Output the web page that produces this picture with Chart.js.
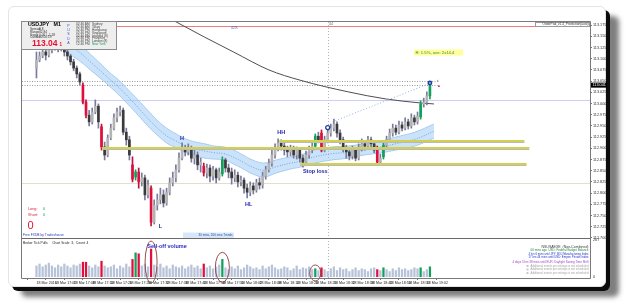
<!DOCTYPE html>
<html>
<head>
<meta charset="utf-8">
<script src="https://cdn.jsdelivr.net/npm/chart.js@4.4.0/dist/chart.umd.min.js"></script>
<style>
  html, body { margin: 0; padding: 0; background: #fff; }
  body { width: 625px; height: 306px; position: relative; overflow: hidden; }
  #card {
    position: absolute; left: 8px; top: 6px; width: 596px; height: 279px;
    border: 1px solid #e4e4e4; border-radius: 6px; background: #fff;
    box-shadow: 4px 4px 0 #0c0c0c, 13px 10px 5px rgba(0,0,0,0.5);
  }
  #chart { position: absolute; left: 0; top: 0; }
</style>
</head>
<body>
<div id="card"></div>
<canvas id="chart" width="625" height="306"></canvas>
<script>
// USDJPY M1 candles, one per minute
const timeLabels = ['18 Mar 2016', '18 Mar 17:02', '18 Mar 17:08', '18 Mar 17:14', '18 Mar 17:20', '18 Mar 17:26',
  '18 Mar 17:32', '18 Mar 17:38', '18 Mar 17:44', '18 Mar 17:50', '18 Mar 17:56', '18 Mar 18:02', '18 Mar 18:08',
  '18 Mar 18:14', '18 Mar 18:20', '18 Mar 18:26', '18 Mar 18:32', '18 Mar 18:38', '18 Mar 18:44', '18 Mar 18:50',
  '18 Mar 18:56', '18 Mar 19:02'];

const priceTicks = [113.175, 113.150, 113.125, 113.100, 113.075, 113.050, 113.025, 113.000, 112.975, 112.950,
  112.925, 112.900, 112.875, 112.850, 112.825, 112.800, 112.775, 112.750, 112.725, 112.700];

const opens = [113.079, 113.097, 113.106, 113.115, 113.108, 113.119, 113.126, 113.133, 113.124, 113.128,
  113.115, 113.106, 113.093, 113.079, 113.066, 113.041, 113.003, 112.974, 112.959, 112.981,
  112.994, 112.948, 112.903, 112.885, 112.923, 112.945, 112.968, 112.981, 112.985, 112.936,
  112.919, 112.863, 112.836, 112.847, 112.825, 112.834, 112.796, 112.811, 112.735, 112.773,
  112.785, 112.796, 112.778, 112.802, 112.823, 112.834, 112.852, 112.878, 112.901, 112.892,
  112.901, 112.878, 112.885, 112.863, 112.860, 112.845, 112.856, 112.838, 112.852, 112.834,
  112.843, 112.874, 112.856, 112.847, 112.834, 112.840, 112.825, 112.829, 112.811, 112.802,
  112.816, 112.807, 112.823, 112.818, 112.838, 112.852, 112.867, 112.885, 112.901, 112.912,
  112.905, 112.896, 112.892, 112.901, 112.885, 112.896, 112.878, 112.869, 112.885, 112.896,
  112.905, 112.927, 112.934, 112.896, 112.919, 112.934, 112.945, 112.954, 112.934, 112.919,
  112.901, 112.892, 112.883, 112.896, 112.878, 112.901, 112.910, 112.905, 112.919, 112.910,
  112.898, 112.869, 112.881, 112.907, 112.919, 112.934, 112.945, 112.936, 112.952, 112.945,
  112.959, 112.950, 112.968, 112.959, 112.970, 112.999, 113.003, 113.017];

const highs = [113.115, 113.115, 113.124, 113.122, 113.128, 113.135, 113.142, 113.137, 113.135, 113.133,
  113.119, 113.110, 113.099, 113.084, 113.070, 113.046, 113.008, 112.985, 112.990, 113.008,
  112.999, 112.954, 112.914, 112.930, 112.954, 112.977, 112.990, 112.994, 112.990, 112.945,
  112.927, 112.881, 112.852, 112.856, 112.845, 112.840, 112.829, 112.816, 112.785, 112.798,
  112.811, 112.807, 112.811, 112.834, 112.847, 112.863, 112.890, 112.912, 112.907, 112.910,
  112.905, 112.896, 112.892, 112.878, 112.867, 112.865, 112.863, 112.860, 112.856, 112.856,
  112.881, 112.878, 112.865, 112.856, 112.852, 112.847, 112.838, 112.834, 112.820, 112.825,
  112.823, 112.831, 112.834, 112.847, 112.860, 112.876, 112.896, 112.910, 112.921, 112.919,
  112.912, 112.905, 112.907, 112.905, 112.903, 112.901, 112.885, 112.894, 112.905, 112.914,
  112.932, 112.936, 112.941, 112.927, 112.943, 112.954, 112.965, 112.959, 112.941, 112.925,
  112.907, 112.898, 112.905, 112.901, 112.910, 112.921, 112.916, 112.927, 112.925, 112.916,
  112.905, 112.887, 112.914, 112.927, 112.943, 112.954, 112.952, 112.961, 112.959, 112.968,
  112.965, 112.977, 112.974, 112.981, 113.006, 113.012, 113.026, 113.046];

const lows = [113.057, 113.093, 113.102, 113.097, 113.104, 113.113, 113.119, 113.115, 113.117, 113.106,
  113.097, 113.086, 113.073, 113.057, 113.041, 112.999, 112.968, 112.950, 112.954, 112.977,
  112.945, 112.896, 112.874, 112.881, 112.919, 112.941, 112.959, 112.972, 112.930, 112.907,
  112.874, 112.825, 112.829, 112.811, 112.816, 112.785, 112.789, 112.727, 112.731, 112.762,
  112.776, 112.769, 112.773, 112.796, 112.816, 112.825, 112.847, 112.874, 112.883, 112.885,
  112.869, 112.865, 112.852, 112.847, 112.838, 112.834, 112.825, 112.829, 112.823, 112.829,
  112.838, 112.847, 112.834, 112.820, 112.825, 112.814, 112.816, 112.800, 112.789, 112.794,
  112.798, 112.802, 112.809, 112.811, 112.831, 112.847, 112.860, 112.878, 112.894, 112.896,
  112.885, 112.881, 112.883, 112.878, 112.876, 112.869, 112.858, 112.865, 112.878, 112.890,
  112.901, 112.912, 112.892, 112.892, 112.912, 112.927, 112.939, 112.925, 112.910, 112.892,
  112.878, 112.874, 112.876, 112.872, 112.874, 112.894, 112.896, 112.898, 112.901, 112.890,
  112.865, 112.865, 112.876, 112.903, 112.914, 112.927, 112.930, 112.932, 112.939, 112.941,
  112.943, 112.945, 112.952, 112.954, 112.965, 112.992, 112.997, 113.010];

const closes = [113.097, 113.106, 113.115, 113.108, 113.119, 113.126, 113.133, 113.124, 113.128, 113.115,
  113.106, 113.093, 113.079, 113.066, 113.048, 113.003, 112.974, 112.959, 112.981, 112.994,
  112.959, 112.903, 112.885, 112.923, 112.945, 112.968, 112.981, 112.985, 112.936, 112.919,
  112.885, 112.831, 112.847, 112.825, 112.834, 112.796, 112.818, 112.735, 112.773, 112.785,
  112.796, 112.778, 112.802, 112.823, 112.834, 112.852, 112.878, 112.901, 112.892, 112.901,
  112.878, 112.885, 112.863, 112.869, 112.845, 112.856, 112.838, 112.852, 112.834, 112.847,
  112.874, 112.856, 112.847, 112.834, 112.840, 112.825, 112.829, 112.811, 112.802, 112.816,
  112.807, 112.823, 112.818, 112.838, 112.852, 112.867, 112.885, 112.901, 112.912, 112.905,
  112.896, 112.892, 112.901, 112.885, 112.896, 112.878, 112.869, 112.885, 112.896, 112.905,
  112.927, 112.919, 112.896, 112.919, 112.934, 112.945, 112.954, 112.934, 112.919, 112.901,
  112.892, 112.883, 112.896, 112.878, 112.901, 112.910, 112.905, 112.919, 112.910, 112.896,
  112.869, 112.878, 112.907, 112.919, 112.934, 112.945, 112.936, 112.952, 112.945, 112.959,
  112.950, 112.968, 112.959, 112.972, 112.999, 113.003, 113.017, 113.041];

// broker tick volume per candle
const volumes = [80, 94, 74, 87, 100, 80, 67, 87, 74, 94,
  80, 67, 87, 80, 94, 107, 107, 80, 67, 87,
  74, 114, 80, 67, 74, 87, 60, 80, 67, 94,
  74, 127, 174, 167, 80, 94, 74, 201, 87, 74,
  94, 67, 80, 60, 87, 74, 67, 80, 60, 74,
  87, 67, 80, 60, 94, 67, 80, 60, 74, 87,
  127, 67, 54, 74, 60, 80, 54, 67, 87, 74,
  60, 67, 54, 80, 60, 74, 87, 67, 54, 60,
  74, 67, 47, 60, 80, 54, 67, 60, 74, 54,
  60, 47, 67, 54, 40, 60, 74, 47, 67, 54,
  60, 40, 54, 67, 47, 60, 54, 40, 60, 67,
  54, 47, 67, 54, 40, 60, 47, 67, 54, 60,
  47, 54, 67, 60, 67, 40, 54, 74];

// 30 min / 200 sma trend band (read at candle positions)
const bandIdx = [8, 11.2, 14.3, 17.4, 20.5, 23.5, 26.6, 29.7, 32.8, 35.9, 38.9, 42, 45.1, 48.2, 51.3, 54.3, 57.4,
  60.5, 63.6, 66.7, 69.7, 73.4, 77.4, 82.1, 85.1, 89.8, 95.3, 100.6, 105.8, 111.3, 115.9, 122.1, 128.3];
const bandTop = [113.168, 113.148, 113.131, 113.110, 113.090, 113.070, 113.052, 113.030, 113.008, 112.985, 112.963,
  112.945, 112.932, 112.921, 112.914, 112.910, 112.905, 112.903, 112.896, 112.885, 112.874, 112.867, 112.874,
  112.881, 112.885, 112.896, 112.903, 112.905, 112.910, 112.916, 112.925, 112.936, 112.954];
const bandMid = [113.147, 113.128, 113.112, 113.093, 113.074, 113.055, 113.036, 113.014, 112.991, 112.967, 112.946,
  112.928, 112.916, 112.905, 112.898, 112.894, 112.890, 112.888, 112.880, 112.869, 112.858, 112.851, 112.859,
  112.867, 112.871, 112.881, 112.888, 112.891, 112.897, 112.903, 112.910, 112.920, 112.938];
const bandBottom = [113.126, 113.108, 113.093, 113.075, 113.057, 113.039, 113.019, 112.997, 112.974, 112.950, 112.930,
  112.912, 112.901, 112.890, 112.883, 112.878, 112.876, 112.874, 112.865, 112.854, 112.843, 112.836, 112.845,
  112.854, 112.858, 112.867, 112.874, 112.878, 112.885, 112.890, 112.896, 112.905, 112.923];

// long moving average
const maIdx = [42, 45.1, 54.3, 63.6, 75, 85.1, 100.6, 112.9, 124.3, 128.3];
const maVals = [113.193, 113.182, 113.148, 113.115, 113.075, 113.052, 113.026, 113.010, 113.001, 112.999];

// trend line from the HH peak to the last bar
const trendIdx = [95.6, 127.3];
const trendVals = [112.959, 113.046];

// horizontal levels
const redLevel = 113.173;
const lavenderLevel = 113.008;
const beigeLevel = 112.823;
const askLevel = 113.050;
const bidLevel = 113.041;
const zoneLevels = [112.916, 112.901, 112.865];
const zoneStart = [78.4, 21.1, 85.1];
const zoneEnd = [157.5, 159.1, 158.2];
const markerIndex = 94;

// marked candles
const redBars = [15, 16, 21, 31, 33, 37, 54, 92, 110];
const greenBars = [32, 60, 90, 112, 124, 127];

const FONT = "'Liberation Sans', Arial, sans-serif";
Chart.defaults.font.family = FONT;

function candleColor(i) {
    if (redBars.includes(i)) return '#e0103e';
    if (greenBars.includes(i)) return '#14a05c';
    return closes[i] >= opens[i] ? '#b4b4b4' : '#3a3a3a';
}
function volColor(i) {
    if (redBars.includes(i)) return '#e0103e';
    if (greenBars.includes(i)) return '#14a05c';
    return '#b7c3d8';
}
function pts(xs, ys) {
    return xs.map((v, k) => ({ x: v, y: ys[k] }));
}

function txt(ctx, s, x, y, font, color, align, maxW) {
    ctx.font = font;
    ctx.fillStyle = color;
    ctx.textAlign = align || 'left';
    ctx.textBaseline = 'middle';
    if (maxW) ctx.fillText(s, x, y, maxW); else ctx.fillText(s, x, y);
}
function hline(ctx, yy, x0, x1, color, w, dash) {
    ctx.beginPath();
    ctx.strokeStyle = color;
    ctx.lineWidth = w;
    ctx.setLineDash(dash || []);
    ctx.moveTo(x0, yy);
    ctx.lineTo(x1, yy);
    ctx.stroke();
}

const deco = {
    id: 'deco',
    beforeDatasetsDraw(chart) {
        const { ctx, chartArea: a, scales: { x, y } } = chart;
        ctx.save();
        const vx = Math.round(x.getPixelForValue(markerIndex)) + 0.5;
        ctx.beginPath();
        ctx.strokeStyle = '#b4b4b4';
        ctx.lineWidth = 1;
        ctx.setLineDash([1, 2]);
        ctx.moveTo(vx, a.top);
        ctx.lineTo(vx, a.bottom);
        ctx.stroke();

        const py = v => Math.round(y.getPixelForValue(v)) + 0.5;
        hline(ctx, py(redLevel), 117, a.right, '#f27a7a', 1.2);
        hline(ctx, py(lavenderLevel), a.left, a.right, '#cfcff5', 1);
        hline(ctx, py(beigeLevel), a.left, a.right, '#e4dfc8', 1);
        const endX = x.getPixelForValue(129.5);
        hline(ctx, py(askLevel), a.left, endX, '#9a9a9a', 1, [1, 1.5]);
        hline(ctx, py(bidLevel), a.left, endX, '#9a9a9a', 1, [1, 1.5]);
        ctx.restore();
    },
    afterDatasetsDraw(chart) {
        const { ctx, chartArea: a, scales: { x, y, yv } } = chart;
        ctx.save();
        // support / resistance zones
        zoneLevels.forEach((v, k) => {
            const yy = Math.round(y.getPixelForValue(v));
            const x0 = x.getPixelForValue(zoneStart[k]);
            const x1 = x.getPixelForValue(zoneEnd[k]);
            hline(ctx, yy + 1.5, x0, x1, '#b9b9b9', 1);
            hline(ctx, yy, x0, x1, '#d2d04c', 2);
        });

        // swing labels
        const bf = 'bold 5.5px ' + FONT;
        const blue = '#1c1ca8';
        txt(ctx, 'H', x.getPixelForValue(47), y.getPixelForValue(highs[47]) - 4, bf, blue, 'center');
        txt(ctx, 'L', x.getPixelForValue(40), y.getPixelForValue(lows[37]) + 1, bf, blue, 'center');
        txt(ctx, 'HL', x.getPixelForValue(68.5), y.getPixelForValue(lows[68]) + 6, bf, blue, 'center');
        txt(ctx, 'HH', x.getPixelForValue(79), y.getPixelForValue(highs[78]) - 6, bf, blue, 'center');
        txt(ctx, 'Stop loss', x.getPixelForValue(86), y.getPixelForValue(lows[86]) + 4, bf, blue, 'left');

        // markers
        ctx.setLineDash([]);
        ctx.beginPath();
        ctx.arc(x.getPixelForValue(94), y.getPixelForValue(highs[94]) - 1.5, 2, 0, Math.PI * 2);
        ctx.fillStyle = '#fff'; ctx.fill();
        ctx.strokeStyle = '#1c3c9c'; ctx.lineWidth = 1.2; ctx.stroke();
        const lx = x.getPixelForValue(127), ly = y.getPixelForValue(highs[127]);
        ctx.beginPath();
        ctx.arc(lx, ly, 2.4, 0, Math.PI * 2);
        ctx.fillStyle = '#1c3c9c'; ctx.fill();
        ctx.beginPath();
        ctx.arc(lx, ly, 1, 0, Math.PI * 2);
        ctx.fillStyle = '#8fb0ff'; ctx.fill();
        txt(ctx, '<', lx + 8, y.getPixelForValue(askLevel), '4px ' + FONT, '#555', 'center');
        ctx.beginPath();
        ctx.arc(lx + 9, y.getPixelForValue(bidLevel) + 1, 0.9, 0, Math.PI * 2);
        ctx.fillStyle = '#e02030'; ctx.fill();

        // volume ellipses
        const ell = (i, cy, rx, ry) => {
            ctx.beginPath();
            ctx.ellipse(x.getPixelForValue(i), cy, rx, ry, 0, 0, Math.PI * 2);
            ctx.strokeStyle = '#8a3c3c'; ctx.lineWidth = 0.9; ctx.stroke();
        };
        const vb = yv.getPixelForValue(0);
        ell(37, (yv.getPixelForValue(volumes[37]) + vb) / 2 - 1, 6, 21);
        ell(60, (yv.getPixelForValue(volumes[60]) + vb) / 2 - 1, 7, 15);
        ell(90, (yv.getPixelForValue(volumes[90]) + vb) / 2, 5.5, 8);
        txt(ctx, 'Sell-off volume', x.getPixelForValue(35.8), yv.getPixelForValue(volumes[37]) - 3, 'bold 5.5px ' + FONT, '#2a2ac8', 'left');

        // frame
        ctx.strokeStyle = '#7a7a7a'; ctx.lineWidth = 1; ctx.setLineDash([]);
        ctx.beginPath();
        ctx.rect(a.left - 0.5, a.top - 0.5, a.right - a.left + 1, a.bottom - a.top + 1);
        ctx.stroke();
        const sep = Math.round(yv.top) + 0.5;
        hline(ctx, sep, a.left, a.right, '#6a6a6a', 1);
        ctx.restore();
    },
    afterDraw(chart) {
        const { ctx, chartArea: a, scales: { y } } = chart;
        ctx.save();
        // current price tag
        const cy = y.getPixelForValue(closes[closes.length - 1]);
        ctx.fillStyle = '#000';
        ctx.fillRect(a.right + 1, cy - 2.5, 16, 5);
        txt(ctx, closes[closes.length - 1].toFixed(3), a.right + 2.5, cy, '3.8px ' + FONT, '#fff', 'left');

        // symbol info box
        ctx.fillStyle = '#eeeeee';
        ctx.fillRect(21, 21, 96, 29);
        ctx.strokeStyle = '#8c8c8c'; ctx.lineWidth = 1;
        ctx.strokeRect(21.5, 21.5, 95, 28);
        txt(ctx, 'USDJPY   M1', 28, 25, 'bold 5.3px ' + FONT, '#000');
        const sf = '3.2px ' + FONT;
        [['Spread:', '0.8'], ['Range:', '32.84'], ['Swap:', '0.06 / -1.18'], ['Candle:', '00:00:59']].forEach((r, k) => {
            txt(ctx, r[0], 30, 29.5 + k * 2.6, sf, '#333');
            txt(ctx, r[1], 39, 29.5 + k * 2.6, sf, '#333');
        });
        txt(ctx, '113.04', 32, 43.5, 'bold 8.5px ' + FONT, '#e8102e');
        txt(ctx, '1', 59.5, 44.5, 'bold 4.5px ' + FONT, '#e8102e');
        ['P', 'U', 'S', 'D', 'A'].forEach((c, k) => txt(ctx, c, 68.5, 26 + k * 4.2, '3.6px ' + FONT, '#3a55c8', 'center'));
        const cities = ['Sydney', 'Tokyo', 'Hongkong', 'Singapore', 'Istanbul (8)', 'Frankfurt', 'London (8)', 'New York'];
        const times = ['02:46 AM', '02:46 AM', '02:46 PM', '02:46 PM', '02:46 PM', '02:46 PM', '02:46 PM', '12:46 PM'];
        cities.forEach((c, k) => {
            const col = k === cities.length - 1 ? '#14a05c' : '#444';
            txt(ctx, times[k], 76, 24.3 + k * 2.85, sf, '#444');
            txt(ctx, c, 92, 24.3 + k * 2.85, sf, col);
        });

        // top annotations
        txt(ctx, '42%', 231, 28.5, '3.4px ' + FONT, '#4060a8');
        txt(ctx, '44', 331, 24, '3.4px ' + FONT, '#666', 'center');
        ctx.strokeStyle = '#9a9a9a';
        ctx.strokeRect(535.5, 22.5, 54, 4);
        txt(ctx, 'OrderPad_v1.4_Protection(auto)', 588.5, 24.6, '3.2px ' + FONT, '#333', 'right', 52);
        ctx.fillStyle = '#ffff9c';
        ctx.fillRect(414, 49.5, 49, 6);
        txt(ctx, 'R: 1.5%, ave: 2x14.4', 415.5, 52.6, '4.2px ' + FONT, '#3a8a2a', 'left', 46);

        // bottom-left account info
        txt(ctx, 'Long:', 28, 209, '3.8px ' + FONT, '#e0203e');
        txt(ctx, '0', 43, 209, '3.8px ' + FONT, '#14a05c');
        txt(ctx, 'Short:', 28, 215, '3.8px ' + FONT, '#e0203e');
        txt(ctx, '0', 43, 215, '3.8px ' + FONT, '#14a05c');
        txt(ctx, '0', 27.5, 226, '11px ' + FONT, '#e8102e');
        txt(ctx, 'Free FXDB by Tradeshouse', 23, 235.5, '3.3px ' + FONT, '#2a40c0', 'left', 45);
        ctx.fillStyle = '#d8e7f8';
        ctx.fillRect(183, 232.5, 51, 5.5);
        txt(ctx, '30 mins, 200 sma Trends', 232.5, 235.3, '3.3px ' + FONT, '#3050a0', 'right', 34);

        // volume panel texts
        txt(ctx, 'Broker Tick Pulls     Chart Scale: 3,  Count: 4', 23, 242.8, '3.3px ' + FONT, '#222', 'left', 70);
        const vr = a.right - 1.5;
        txt(ctx, 'NSUSAEXE  (Non-Combined)', vr, 247, '3.6px ' + FONT, '#3a3a3a', 'right', 47);
        txt(ctx, '06 mins ago  USD: Federal Budget Balance', vr, 250.5, '3.2px ' + FONT, '#1f8a3c', 'right', 58);
        txt(ctx, '4 hrs 6 mins until JPY: BOJ Manufacturing Index', vr, 254.2, '3.2px ' + FONT, '#2030c8', 'right', 60);
        txt(ctx, '17 hrs 44 mins until USD: Empire Private Index', vr, 257.4, '3.2px ' + FONT, '#2030c8', 'right', 60);
        txt(ctx, '4 days 5 hrs 38 mins until EUR: Daylight Saving Time Shift', vr, 262, '3.2px ' + FONT, '#a040c8', 'right', 76);
        [266, 269.5, 273].forEach(yy => {
            txt(ctx, 'Additional events per settings is not scheduled', vr, yy, '3.2px ' + FONT, '#a4a4a4', 'right', 58);
            ctx.fillStyle = '#c8c8c8';
            ctx.fillRect(vr - 62, yy - 1, 2, 2);
        });
        ctx.restore();
    }
};

const candleIdx = closes.map((_, i) => i);

new Chart(document.getElementById('chart'), {
    type: 'bar',
    data: {
        datasets: [
            {
                type: 'line', data: pts(bandIdx, bandTop), borderColor: '#a6cbf0', borderWidth: 1,
                pointRadius: 0, tension: 0.4, fill: false, order: 10
            },
            {
                type: 'line', data: pts(bandIdx, bandBottom), borderColor: '#a6cbf0', borderWidth: 1,
                pointRadius: 0, tension: 0.4, fill: '-1', backgroundColor: 'rgba(150,200,245,0.5)', order: 10
            },
            {
                type: 'line', data: pts(bandIdx, bandMid), borderColor: '#5d90d8', borderWidth: 0.8,
                borderDash: [1, 1.5], pointRadius: 0, tension: 0.4, order: 9
            },
            {
                type: 'line', data: pts(maIdx, maVals), borderColor: '#4e4e4e', borderWidth: 1,
                pointRadius: 0, cubicInterpolationMode: 'monotone', order: 8
            },
            {
                type: 'line', data: pts(trendIdx, trendVals), borderColor: '#8fb2e4', borderWidth: 1,
                borderDash: [1, 2], pointRadius: 0, order: 7
            },
            {
                label: 'wicks', data: candleIdx.map(i => ({ x: i, y: [lows[i], highs[i]] })),
                backgroundColor: candleIdx.map(i => redBars.includes(i) ? '#c01038' : (greenBars.includes(i) ? '#14a05c' : '#7a7a9e')),
                barThickness: 1, grouped: false, order: 2
            },
            {
                label: 'bodies', data: candleIdx.map(i => ({ x: i, y: [opens[i], closes[i]] })),
                backgroundColor: candleIdx.map(candleColor),
                barThickness: 2, grouped: false, order: 1
            },
            {
                label: 'volume', yAxisID: 'yv', data: candleIdx.map(i => ({ x: i, y: volumes[i] })),
                backgroundColor: candleIdx.map(volColor),
                barThickness: 1.6, grouped: false, order: 1
            }
        ]
    },
    options: {
        responsive: false,
        animation: false,
        devicePixelRatio: 1,
        layout: { padding: { left: 22, top: 22, right: 17, bottom: 20 } },
        plugins: { legend: { display: false }, tooltip: { enabled: false } },
        scales: {
            x: {
                type: 'linear', min: -0.5, max: 174.5, position: 'bottom',
                grid: { drawOnChartArea: false, drawTicks: true, tickLength: 2, color: '#777' },
                border: { display: false },
                afterBuildTicks: s => { s.ticks = timeLabels.map((_, k) => ({ value: k * 6 })); },
                afterFit: s => { s.height = 8; },
                ticks: {
                    autoSkip: false, maxRotation: 0, minRotation: 0, align: 'start', padding: 0.5,
                    font: { size: 3.6 }, color: '#222',
                    callback: v => timeLabels[Math.round(v / 6)]
                }
            },
            y: {
                position: 'right', stack: 'panes', stackWeight: 216,
                min: 112.6998, max: 113.1819,
                grid: { drawOnChartArea: false, drawTicks: true, tickLength: 2, color: '#777' },
                border: { display: false },
                afterBuildTicks: s => { s.ticks = priceTicks.map(v => ({ value: v })); },
                afterFit: s => { s.width = 18; },
                ticks: { autoSkip: false, padding: 1, font: { size: 3.8 }, color: '#333', callback: v => v.toFixed(3) }
            },
            yv: {
                position: 'right', stack: 'panes', stackWeight: 40,
                min: -6, max: 280,
                grid: { drawOnChartArea: false, drawTicks: false },
                border: { display: false },
                afterBuildTicks: s => { s.ticks = [{ value: 267 }, { value: 0 }]; },
                afterFit: s => { s.width = 18; },
                ticks: { autoSkip: false, padding: 3, font: { size: 3.8 }, color: '#333' }
            }
        }
    },
    plugins: [deco]
});
</script>
</body>
</html>
